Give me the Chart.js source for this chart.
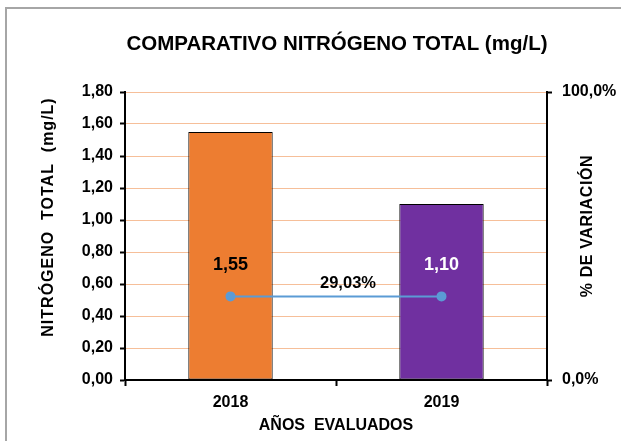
<!DOCTYPE html>
<html>
<head>
<meta charset="utf-8">
<script src="https://cdn.jsdelivr.net/npm/chart.js@4.4.1/dist/chart.umd.min.js"></script>
<style>
  html, body { margin: 0; padding: 0; background: #fff; }
  #wrap { width: 621px; height: 441px; }
</style>
</head>
<body>
<div id="wrap"><canvas id="chart" width="621" height="441"></canvas></div>
<script>
// datos
const years = ["2018", "2019"];
const nitrogeno = [1.55, 1.10];
const variacion = [0.2903, 0.2903];
const nitroTicks = { min: 0, max: 1.8, step: 0.2 };
const pctTicks = { min: 0, max: 1, step: 1 };

const FONT = "'Liberation Sans', Arial, sans-serif";
const coma = (v, d) => v.toFixed(d).replace(".", ",");

// texto rotado o con espaciado
function texto(ctx, str, x, y, font, spacing, rot) {
  ctx.save();
  ctx.font = font;
  ctx.letterSpacing = spacing + "px";
  ctx.translate(x, y);
  if (rot) ctx.rotate(rot);
  ctx.fillText(str, 0, 0);
  ctx.restore();
}

// marco gris, titulo, etiquetas de datos y titulos de ejes
const extras = {
  id: "extras",
  beforeDraw(chart) {
    const ctx = chart.ctx;
    ctx.save();
    ctx.fillStyle = "#fff";
    ctx.fillRect(0, 0, chart.width, chart.height);
    ctx.strokeStyle = "#A6A6A6";
    ctx.lineWidth = 2;
    ctx.strokeRect(6, 8, chart.width + 20, chart.height + 20);
    ctx.restore();
  },
  afterDatasetsDraw(chart) {
    const ctx = chart.ctx;
    const ca = chart.chartArea;
    const y = chart.scales.y;
    ctx.save();
    ctx.textAlign = "center";
    ctx.textBaseline = "middle";
    ctx.fillStyle = "#000";
    texto(ctx, "COMPARATIVO NITRÓGENO TOTAL (mg/L)", 337, 44, "bold 20.5px " + FONT, 0);
    // valores de barras
    chart.getDatasetMeta(0).data.forEach((bar, i) => {
      ctx.fillStyle = i === 0 ? "#000" : "#fff";
      texto(ctx, coma(nitrogeno[i], 2), bar.x, y.getPixelForValue(0.72), "bold 18px " + FONT, 0);
    });
    // % de variacion
    const pts = chart.getDatasetMeta(1).data;
    ctx.fillStyle = "#000";
    texto(ctx, coma(variacion[0] * 100, 2) + "%", (pts[0].x + pts[1].x) / 2 + 12, pts[0].y - 13, "bold 16.5px " + FONT, 0);
    // titulos de ejes
    texto(ctx, "AÑOS  EVALUADOS", (ca.left + ca.right) / 2, 426, "bold 16px " + FONT, 0);
    texto(ctx, "NITRÓGENO  TOTAL  (mg/L)", 49, 217, "bold 16px " + FONT, 1, -Math.PI / 2);
    texto(ctx, "% DE VARIACIÓN", 588, 226, "bold 16px " + FONT, 0.6, -Math.PI / 2);
    ctx.restore();
  }
};

const tickFont = { family: FONT, size: 16, weight: "bold" };

new Chart(document.getElementById("chart"), {
  type: "bar",
  data: {
    labels: years,
    datasets: [
      {
        label: "Nitrógeno total",
        data: nitrogeno,
        backgroundColor: ["#ED7D31", "#7030A0"],
        borderColor: "#000",
        borderWidth: 1,
        borderSkipped: false,
        categoryPercentage: 1,
        barPercentage: 0.4,
        yAxisID: "y",
        order: 1
      },
      {
        type: "line",
        label: "% de variación",
        data: variacion,
        borderColor: "#5B9BD5",
        backgroundColor: "#5B9BD5",
        borderWidth: 2,
        pointRadius: 4,
        yAxisID: "y1",
        order: 0
      }
    ]
  },
  options: {
    responsive: false,
    animation: false,
    layout: { padding: { top: 92 } },
    plugins: {
      legend: { display: false },
      tooltip: { enabled: false },
      title: { display: false }
    },
    scales: {
      x: {
        grid: { offset: true, drawOnChartArea: false, tickLength: 6, tickColor: "#000", tickWidth: 2 },
        border: { color: "#000", width: 2 },
        ticks: { color: "#000", padding: 7, font: tickFont },
        afterFit(s) { s.height = 61; }
      },
      y: {
        position: "left",
        min: nitroTicks.min,
        max: nitroTicks.max,
        grid: { color: "#F6BF99", lineWidth: 1, tickLength: 5, tickColor: "#000", tickWidth: 2 },
        border: { color: "#000", width: 2 },
        ticks: {
          stepSize: nitroTicks.step,
          color: "#000",
          padding: 7,
          font: tickFont,
          callback: v => coma(v, 2)
        },
        afterFit(s) { s.width = 125; }
      },
      y1: {
        position: "right",
        min: pctTicks.min,
        max: pctTicks.max,
        grid: { drawOnChartArea: false, tickLength: 5, tickColor: "#000", tickWidth: 2 },
        border: { color: "#000", width: 2 },
        ticks: {
          stepSize: pctTicks.step,
          color: "#000",
          padding: 10,
          font: tickFont,
          callback: v => coma(v * 100, 1) + "%"
        },
        afterFit(s) { s.width = 74; }
      }
    }
  },
  plugins: [extras]
});
</script>
</body>
</html>
